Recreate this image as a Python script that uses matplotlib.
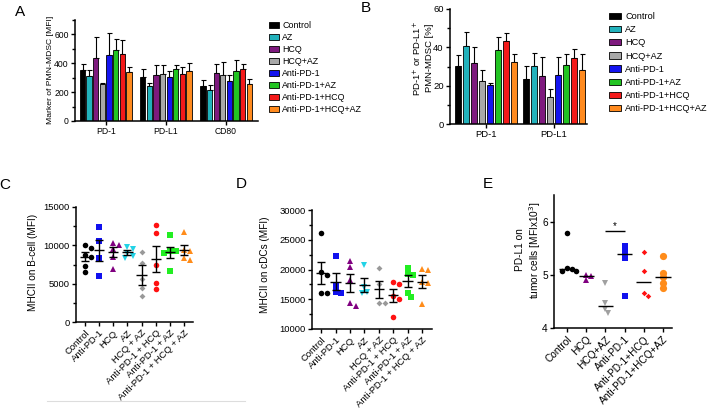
import matplotlib
matplotlib.use('Agg')
import matplotlib.pyplot as plt
import numpy as np
from matplotlib.patches import Patch
from matplotlib.ticker import MultipleLocator

plt.rcParams['font.family'] = ['Liberation Sans', 'DejaVu Sans']

# ---------------- data ----------------
treatments = ["Control", "AZ", "HCQ", "HCQ+AZ", "Anti-PD-1", "Anti-PD-1+AZ",
              "Anti-PD-1+HCQ", "Anti-PD-1+HCQ+AZ"]
bar_colors = ['#000000', '#22B2BC', '#7E1A7E', '#A8A8A8', '#1414F0', '#22C422',
              '#F41A1A', '#FF8A1E']

# Panel A
a_groups = ["PD-1", "PD-L1", "CD80"]
a_pd1 = [352, 313, 436, 257, 460, 494, 466, 340]
a_pd1_top = [398, 355, 584, 264, 607, 567, 563, 372]
a_pdl1 = [306, 241, 317, 327, 305, 359, 327, 344]
a_pdl1_top = [357, 266, 390, 387, 345, 390, 375, 405]
a_cd80 = [240, 217, 333, 317, 279, 347, 357, 254]
a_cd80_top = [283, 248, 392, 410, 316, 421, 394, 294]

# Panel B
b_groups = ["PD-1", "PD-L1"]
b_pd1 = [30.5, 40.7, 31.7, 22.5, 20.6, 38.5, 43.3, 32.3]
b_pd1_top = [35.9, 48.0, 40.4, 28.3, 21.5, 45.6, 47.3, 36.4]
b_pdl1 = [23.6, 30.5, 25.3, 13.9, 25.7, 30.9, 34.4, 28.3]
b_pdl1_top = [30.5, 36.9, 34.7, 18.2, 35.2, 36.5, 39.0, 36.5]

# Panels C / D
cd_labels = ["Control", "Anti-PD-1", "HCQ", "AZ", "HCQ + AZ", "Anti-PD-1 + HCQ",
             "Anti-PD-1 + AZ", "Anti-PD-1 + HCQ + AZ"]
cd_colors = ['#000000', '#1111EE', '#800080', '#22D3E6', '#999999', '#FF1111',
             '#22EE22', '#FF8C1A']
cd_markers = ['o', 's', '^', 'v', 'D', 'o', 's', '^']

c_control = [10050, 9650, 8800, 8500, 7250, 6550]
c_antipd1 = [12400, 10600, 8400, 5950]
c_hcq = [10250, 10050, 9550, 8500, 6900]
c_az = [9750, 9550, 9000, 8600, 8400]
c_hcqaz = [9100, 7700, 5600, 4400, 3450]
c_pd1hcq = [12700, 11550, 7500, 5050, 4300]
c_pd1az = [11400, 9300, 9200, 9050, 6600]
c_pd1hcqaz = [11800, 9450, 9300, 8350, 8150]
c_mean = [8500, 9350, 9150, 9100, 6150, 8200, 9100, 9400]
c_sem = [570, 1350, 620, 300, 1350, 1700, 720, 650]

d_control = [26200, 19600, 19100, 16050, 16050]
d_antipd1 = [22300, 17200, 16300, 16000]
d_hcq = [21500, 20400, 18300, 14300, 13900]
d_az = [20700, 17000, 16200, 16000]
d_hcqaz = [20300, 17500, 14400, 14400]
d_pd1hcq = [17900, 17600, 15600, 15000, 12000]
d_pd1az = [20300, 19300, 19000, 16100, 15300]
d_pd1hcqaz = [20100, 19900, 17900, 17700, 14200]
d_mean = [19400, 17950, 17700, 17350, 16650, 15650, 18000, 17950]
d_sem = [1850, 1450, 1550, 1150, 1400, 1050, 1000, 1050]

# Panel E
e_labels = ["Control", "HCQ", "HCQ+AZ", "Anti-PD-1", "Anti-PD-1+HCQ", "Anti-PD-1+HCQ+AZ"]
e_colors = ['#000000', '#800080', '#A0A0A0', '#1111EE', '#FF1111', '#FF8C1A']
e_markers = ['o', '^', 'v', 's', 'D', 'o']
e_sizes = [4.0, 4.0, 4.2, 4.2, 2.8, 5.2]
e_control = [5.79, 5.12, 5.10, 5.08, 5.07]
e_hcq = [4.99, 4.98, 4.90]
e_hcqaz = [4.85, 4.47, 4.35, 4.29]
e_pd1 = [5.55, 5.45, 5.32, 4.60]
e_pd1hcq = [5.42, 5.08, 4.66, 4.61]
e_pd1hcqaz = [5.36, 5.04, 4.95, 4.84, 4.75]
e_sig_pair = (2, 3)
e_sig_level = 5.82

# ---------------- figure ----------------
W, H = 710, 408
fig = plt.figure(figsize=(W / 100, H / 100), dpi=100)


def ax_px(l, r, t, b):
    return fig.add_axes([l / W, 1 - b / H, (r - l) / W, (b - t) / H])


def style(ax, fs):
    for s in ['top', 'right']:
        ax.spines[s].set_visible(False)
    for s in ['left', 'bottom']:
        ax.spines[s].set_linewidth(1.1)
    ax.tick_params(width=1.0, length=3, labelsize=fs, pad=1.5)
    ax.tick_params(which='minor', width=1.0, length=2)


def draw_bars(ax, means, tops, pitch, width):
    for gi, (m, t) in enumerate(zip(means, tops)):
        for i in range(len(m)):
            x = gi + (i - (len(m) - 1) / 2) * pitch
            ax.errorbar(x, m[i], yerr=[[0], [t[i] - m[i]]], color='black',
                        capsize=1.8, elinewidth=0.8, capthick=0.8, zorder=1)
            ax.bar(x, m[i], width, color=bar_colors[i], edgecolor='black',
                   linewidth=0.6, zorder=2)


# ---- Panel A ----
axA = ax_px(75, 258, 20, 121)
draw_bars(axA, [a_pd1, a_pdl1, a_cd80], [a_pd1_top, a_pdl1_top, a_cd80_top], 0.11, 0.088)
axA.set_xlim(-0.51, 2.53)
axA.set_ylim(0, 700)
axA.set_yticks([0, 200, 400, 600])
axA.yaxis.set_minor_locator(MultipleLocator(100))
axA.set_xticks(range(len(a_groups)))
axA.set_xticklabels(a_groups)
style(axA, 6.2)
fig.text(50 / W, 1 - 70 / H, "Marker of PMN-MDSC [MFI]", rotation=90,
         ha='center', va='center', fontsize=6.1)
fig.legend(handles=[Patch(facecolor=c, edgecolor='black', linewidth=0.6) for c in bar_colors],
           labels=treatments, loc='upper left', bbox_to_anchor=(269 / W, 1 - 21 / H),
           fontsize=6.4, frameon=False, handlelength=1.1, handleheight=0.7,
           handletextpad=0.4, labelspacing=0.34, borderpad=0, borderaxespad=0)

# ---- Panel B ----
axB = ax_px(450, 587, 9, 124)
draw_bars(axB, [b_pd1, b_pdl1], [b_pd1_top, b_pdl1_top], 0.1176, 0.085)
axB.set_xlim(-0.53, 1.49)
axB.set_ylim(0, 60)
axB.set_yticks([0, 20, 40, 60])
axB.yaxis.set_minor_locator(MultipleLocator(10))
axB.set_xticks(range(len(b_groups)))
axB.set_xticklabels(b_groups)
style(axB, 6.8)
fig.text(423 / W, 1 - 58 / H, "PD-1$^{+}$ or PD-L1$^{+}$\nPMN-MDSC [%]", rotation=90,
         ha='center', va='center', fontsize=6.8, linespacing=1.05)
fig.legend(handles=[Patch(facecolor=c, edgecolor='black', linewidth=0.6) for c in bar_colors],
           labels=treatments, loc='upper left', bbox_to_anchor=(609 / W, 1 - 12 / H),
           fontsize=6.55, frameon=False, handlelength=1.35, handleheight=0.7,
           handletextpad=0.45, labelspacing=0.46, borderpad=0, borderaxespad=0)


def swarm_offsets(vals, ppx_y, ppx_x, diam, step):
    vals = np.asarray(vals, float)
    order = np.argsort(vals)[::-1]
    placed = []
    offs = np.zeros(len(vals))
    for i in order:
        y = vals[i] * ppx_y
        for k in [0, 1, -1, 2, -2, 3, -3, 4, -4]:
            x = k * step
            if all((x - px) ** 2 + (y - py) ** 2 >= diam ** 2 for px, py in placed):
                break
        placed.append((x, y))
        offs[i] = x / ppx_x
    return offs


def dot_panel(ax, groups, colors, markers, sizes, ppx_y, ppx_x, diam):
    for gi, vals in enumerate(groups):
        offs = swarm_offsets(vals, ppx_y, ppx_x, diam, diam * 0.6)
        ax.plot(gi + offs, vals, linestyle='none', marker=markers[gi],
                color=colors[gi], markersize=sizes[gi], markeredgewidth=0, zorder=2)


# ---- Panel C ----
axC = ax_px(76, 193, 207, 322)
c_groups = [c_control, c_antipd1, c_hcq, c_az, c_hcqaz, c_pd1hcq, c_pd1az, c_pd1hcqaz]
cd_sizes = [4.0, 4.0, 4.2, 4.2, 3.0, 4.0, 4.0, 4.2]
dot_panel(axC, c_groups, cd_colors, cd_markers, cd_sizes, 115 / 15000, 14.14, 4.8)
for gi in range(len(c_groups)):
    axC.hlines(c_mean[gi], gi - 0.36, gi + 0.36, color='black', linewidth=1.0, zorder=3)
    axC.errorbar(gi, c_mean[gi], yerr=c_sem[gi], color='black', capsize=3.2,
                 elinewidth=1.0, capthick=1.0, zorder=3)
axC.set_xlim(-0.64, 7.64)
axC.set_ylim(0, 15000)
axC.set_yticks([0, 5000, 10000, 15000])
axC.yaxis.set_minor_locator(MultipleLocator(2500))
axC.set_xticks(range(8))
axC.set_xticklabels(cd_labels, rotation=45, ha='right', rotation_mode='anchor')
style(axC, 6.8)
fig.text(33 / W, 1 - 262 / H, "MHCII on B-cell (MFI)", rotation=90,
         ha='center', va='center', fontsize=7.2)
fig.add_artist(plt.Line2D([47 / W, 245 / W], [1 - 401 / H, 1 - 401 / H],
                          color='#DDDDDD', linewidth=0.8))

# ---- Panel D ----
axD = ax_px(312, 432, 210, 329)
d_groups = [d_control, d_antipd1, d_hcq, d_az, d_hcqaz, d_pd1hcq, d_pd1az, d_pd1hcqaz]
dot_panel(axD, d_groups, cd_colors, cd_markers, cd_sizes, 119 / 20000, 14.43, 4.8)
for gi in range(len(d_groups)):
    axD.hlines(d_mean[gi], gi - 0.36, gi + 0.36, color='black', linewidth=1.0, zorder=3)
    axD.errorbar(gi, d_mean[gi], yerr=d_sem[gi], color='black', capsize=3.2,
                 elinewidth=1.0, capthick=1.0, zorder=3)
axD.set_xlim(-0.64, 7.69)
axD.set_ylim(10000, 30000)
axD.set_yticks([10000, 15000, 20000, 25000, 30000])
axD.yaxis.set_minor_locator(MultipleLocator(2500))
axD.set_xticks(range(8))
axD.set_xticklabels(cd_labels, rotation=45, ha='right', rotation_mode='anchor')
style(axD, 6.8)
fig.text(265 / W, 1 - 265 / H, "MHCII on cDCs (MFI)", rotation=90,
         ha='center', va='center', fontsize=7.2)

# ---- Panel E ----
axE = ax_px(554, 672, 195, 328)
e_groups = [e_control, e_hcq, e_hcqaz, e_pd1, e_pd1hcq, e_pd1hcqaz]
dot_panel(axE, e_groups, e_colors, e_markers, e_sizes, 133 / 2.5, 19.2, 3.8)
for gi, vals in enumerate(e_groups):
    axE.hlines(np.median(vals), gi - 0.4, gi + 0.4, color='black', linewidth=1.0, zorder=3)
i0, i1 = e_sig_pair
axE.hlines(e_sig_level, i0, i1, color='black', linewidth=1.0)
axE.text((i0 + i1) / 2, e_sig_level + 0.01, "*", ha='center', va='bottom', fontsize=7)
axE.set_xlim(-0.68, 5.47)
axE.set_ylim(4, 6.5)
axE.set_yticks([4, 5, 6])
axE.set_xticks(range(6))
axE.set_xticklabels(e_labels, rotation=45, ha='right', rotation_mode='anchor')
style(axE, 7.3)
fig.text(529 / W, 1 - 250 / H, "PD-L1 on\ntumor cells [MFIx10$^{3}$]", rotation=90,
         ha='center', va='center', fontsize=7.3, linespacing=1.15)

# ---- panel letters ----
for lab, x, y in [("A", 20, 12), ("B", 366, 8), ("C", 5, 185), ("D", 241, 184), ("E", 488, 184)]:
    fig.text(x / W, 1 - y / H, lab, ha='center', va='center', fontsize=11)

fig.savefig("out.png", dpi=100)
